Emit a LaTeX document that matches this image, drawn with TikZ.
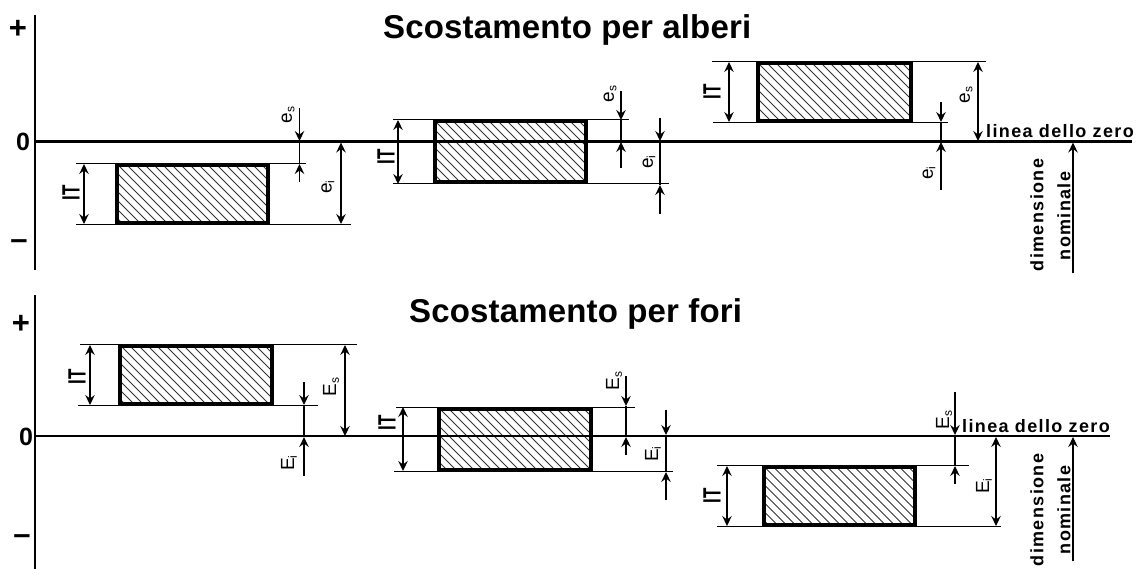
\documentclass[tikz,border=0pt]{standalone}
\usepackage{fontspec}
\setmainfont{Liberation Sans}
\newfontfamily\spacedbold[LetterSpace=7.5,BoldFont={Liberation Sans Bold}]{Liberation Sans}
\newfontfamily\titlebold[LetterSpace=0.5,BoldFont={Liberation Sans Bold}]{Liberation Sans}
\usetikzlibrary{arrows.meta}
\tikzset{
  axisline/.style={line width=2.8pt},
  zeroline/.style={line width=2.6pt},
  extline/.style={line width=1pt},
  dimline/.style={line width=1.2pt},
  dimtip/.style={-{Stealth[length=10pt,width=9.5pt,inset=3.5pt]}},
  hatchline/.style={line width=0.75pt,black!80},
  tolerance box/.style={line width=4pt},
  titletext/.style={font=\titlebold\bfseries\fontsize{33}{33}\selectfont,anchor=west,inner sep=0pt},
  zerotext/.style={font=\spacedbold\bfseries\fontsize{18}{18}\selectfont,anchor=west,inner sep=0pt},
  nomtext/.style={font=\spacedbold\bfseries\fontsize{18}{18}\selectfont,rotate=90,inner sep=0pt},
  signtext/.style={font=\bfseries\fontsize{25}{25}\selectfont,inner sep=0pt},
  pmtext/.style={font=\bfseries\fontsize{31}{31}\selectfont,inner sep=0pt},
  itlabel/.style={font=\bfseries\fontsize{25}{25}\selectfont,rotate=90,inner sep=0pt},
  devlabel/.style={font=\fontsize{19}{19}\selectfont,rotate=90,inner sep=0pt},
}
% x1 y1 x2 y2
\newcommand{\tolbox}[4]{
  \begin{scope}
    \clip (#1,#2) rectangle (#3,#4);
    \foreach \hx in {-80,-71,...,200}
      \draw [hatchline] (#1+\hx,#2) -- (#1+\hx+80,#2+80);
  \end{scope}
  \draw [tolerance box] (#1,#2) rectangle (#3,#4);
}
% x y1 y2
\newcommand{\dimboth}[3]{
  \draw [dimline,dimtip] (#1,#2/2+#3/2) -- (#1,#2);
  \draw [dimline,dimtip] (#1,#2/2+#3/2) -- (#1,#3);
}
% x start tip tip start
\newcommand{\dimout}[5]{
  \draw [dimline,dimtip] (#1,#2) -- (#1,#3);
  \draw [dimline] (#1,#3) -- (#1,#4);
  \draw [dimline,dimtip] (#1,#5) -- (#1,#4);
}
\newcommand{\devtext}[2]{#1\textsubscript{\fontsize{12}{12}\selectfont #2}}
\newcommand{\ITtext}{\scalebox{.68}[1]{IT}}
\begin{document}
\begin{tikzpicture}[x=1pt,y=-1pt]
\useasboundingbox (0,0) rectangle (1139,569);
\tolbox{117}{165}{268}{223}
\tolbox{434.5}{121.5}{586}{182.5}
\tolbox{757.5}{63.5}{910.5}{121}
\tolbox{119.5}{345.5}{271.5}{403.5}
\tolbox{438.5}{408.5}{590.5}{470}
\tolbox{763.5}{467}{914.5}{525}
\draw [axisline] (35,15) -- (35,270);
\draw [axisline] (35,295) -- (35,569);
\draw [zeroline] (35,141.5) -- (1132,141.5);
\draw [zeroline] (35,436) -- (1110,436);
\draw [extline] (76,163.5) -- (115,163.5) (270,163.5) -- (306,163.5);
\draw [extline] (76,224.5) -- (115,224.5) (270,224.5) -- (351,224.5);
\draw [extline] (393,119.5) -- (433,119.5) (587,119.5) -- (629,119.5);
\draw [extline] (393,184) -- (433,184) (587,184) -- (669,184);
\draw [extline] (712,61.5) -- (756,61.5) (912,61.5) -- (986,61.5);
\draw [extline] (713,122.5) -- (756,122.5) (912,122.5) -- (948,122.5);
\draw [extline] (80,344) -- (118,344) (273,344) -- (357,344);
\draw [extline] (78,405.5) -- (118,405.5) (273,405.5) -- (318,405.5);
\draw [extline] (396,407) -- (437,407) (592,407) -- (635,407);
\draw [extline] (394,471.5) -- (437,471.5) (592,471.5) -- (673,471.5);
\draw [extline] (717,465) -- (762,465) (916,465) -- (969,465);
\draw [extline] (717,526.5) -- (762,526.5) (916,526.5) -- (1001,526.5);
\dimboth{84}{164}{224}
\dimboth{341}{142.5}{224}
\dimout{299.5}{108}{141}{164}{182}
\dimboth{398}{120}{184}
\dimout{621}{91}{120}{142}{168}
\dimout{660}{118}{141}{185}{214}
\dimboth{729}{62}{122}
\dimboth{978}{62}{141}
\dimout{941}{102}{122}{142}{190}
\draw [dimline,dimtip] (1073,273) -- (1073,142.5);
\dimboth{90}{345}{405}
\dimboth{345}{345}{436}
\dimout{304}{382}{405}{437}{476}
\dimboth{403}{407}{471}
\dimout{626}{376}{406}{437}{455}
\dimout{666}{410}{435}{472}{500}
\dimboth{727}{466}{526}
\dimboth{996}{437}{526}
\dimout{955}{392}{435}{466}{484}
\draw [dimline,dimtip] (1073,561) -- (1073,437);
\node [titletext] (alberi) at (383,30) {Scostamento per alberi};
\node [titletext] (fori) at (409,314) {Scostamento per fori};
\node [pmtext] (plusa) at (18,29) {+};
\node [signtext] (zeroa) at (23,142) {0};
\node [pmtext] (minusa) at (19,245) {--};
\node [pmtext] (plusb) at (21,324) {+};
\node [signtext] (zerob) at (26,437) {0};
\node [pmtext] (minusb) at (22,540) {--};
\node [zerotext] (lineaa) at (986,131) {linea dello zero};
\node [zerotext] (lineab) at (962,426) {linea dello zero};
\node [nomtext] (dima) at (1037,215) {dimensione};
\node [nomtext] (noma) at (1064,216) {nominale};
\node [nomtext] (dimb) at (1037,510) {dimensione};
\node [nomtext] (nomb) at (1064,510) {nominale};
\node [itlabel] (ita) at (71,193) {\ITtext};
\node [itlabel] (itb) at (386,157) {\ITtext};
\node [itlabel] (itc) at (712,92) {\ITtext};
\node [itlabel] (itd) at (77,377) {\ITtext};
\node [itlabel] (ite) at (387,423) {\ITtext};
\node [itlabel] (itf) at (712,496) {\ITtext};
\node [devlabel] (esa) at (288,115) {\devtext{e}{s}};
\node [devlabel] (eia) at (328,187) {\devtext{e}{i}};
\node [devlabel] (esb) at (610,94) {\devtext{e}{s}};
\node [devlabel] (eib) at (649,162) {\devtext{e}{i}};
\node [devlabel] (esc) at (966,95) {\devtext{e}{s}};
\node [devlabel] (eic) at (929,173) {\devtext{e}{i}};
\node [devlabel] (cesa) at (331,387) {\devtext{E}{s}};
\node [devlabel] (ceia) at (289,463) {\devtext{E}{i}};
\node [devlabel] (cesb) at (614,381) {\devtext{E}{s}};
\node [devlabel] (ceib) at (653,454) {\devtext{E}{i}};
\node [devlabel] (cesc) at (944,420) {\devtext{E}{s}};
\node [devlabel] (ceic) at (984,486) {\devtext{E}{i}};
\end{tikzpicture}
\end{document}
